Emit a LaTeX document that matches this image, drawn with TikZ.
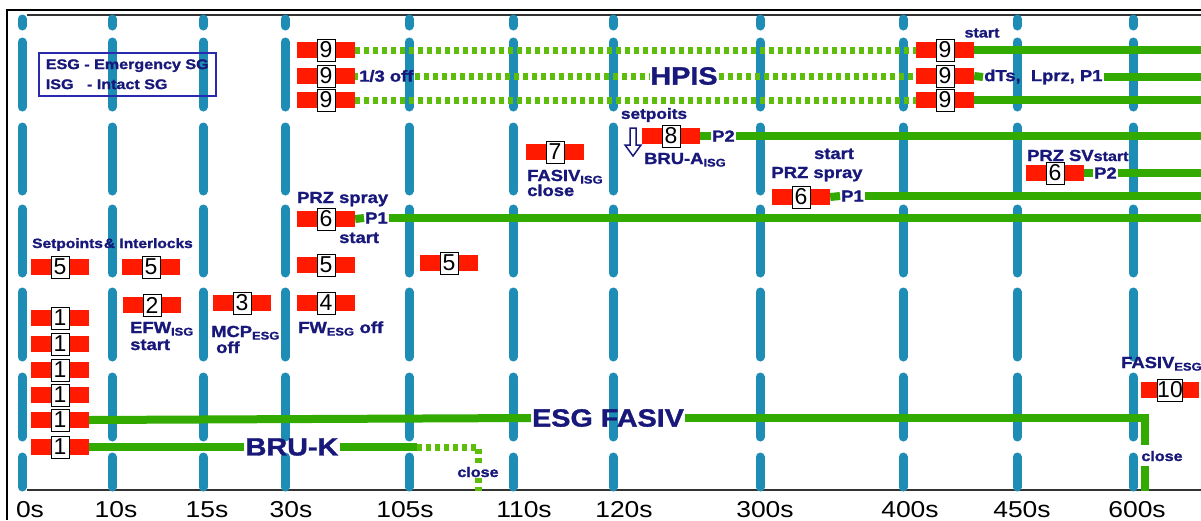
\documentclass[tikz,border=0pt]{standalone}
\usepackage{fontspec}
\newfontfamily\labfont{Liberation Sans}[FakeStretch=1.15,BoldFeatures={FakeBold=1.3}]
\newfontfamily\digfont{Liberation Sans}
\definecolor{gridblue}{HTML}{1E8DB6}
\definecolor{sigred}{HTML}{FF1A00}
\definecolor{flowgreen}{HTML}{33AA00}
\definecolor{flowlight}{HTML}{5CBE0A}
\definecolor{labnavy}{HTML}{18187A}
\definecolor{legblue}{HTML}{2A2AB0}
\definecolor{axisgrey}{HTML}{333333}

\begin{document}
\begin{tikzpicture}[x=1pt,y=-1pt,
 lab/.style={font=\labfont\bfseries\fontsize{16}{18}\selectfont,text=labnavy,inner sep=1pt},
 smalllab/.style={lab,font=\labfont\bfseries\fontsize{14}{16}\selectfont},
 biglab/.style={lab,font=\labfont\bfseries\fontsize{25}{28}\selectfont},
 ticklab/.style={font=\labfont\fontsize{23}{25}\selectfont,inner sep=0pt},
 num/.style={draw=black,fill=white,line width=1pt,inner sep=0pt,minimum width=18,minimum height=22,font=\digfont\fontsize{23}{23}\selectfont},
 sig/.style={fill=sigred,minimum width=58,minimum height=16,inner sep=0pt,label={[num]center:#1}},
 flow/.style={draw=flowgreen,line width=8pt},
 flowdot/.style={draw=flowlight,line width=7pt,dash pattern=on 5pt off 4pt},
 tline/.style={draw=gridblue,line width=9pt,line cap=round}]
\useasboundingbox (0,0) rectangle (1201,520);
\draw[black,line width=1.2pt] (7,520) -- (7,10) -- (1201,10);
\draw[axisgrey,line width=2pt] (27,15) -- (1201,15);
\draw[axisgrey,line width=2pt] (27,490) -- (1201,490);
\foreach \x in {22,112,203,285,409,513,613,760,903,1017,1133}
  \foreach \a/\b in {15/30,38/111,123/195,205/277,288/361,373/441,453/491}
    \draw[tline] (\x,{\a+4}) -- (\x,{\b-4});
\foreach \t/\x in {0/30,10/116,15/207,30/291,105/405,110/524,120/624,300/765,400/910,450/1022,600/1137}
  \node[ticklab,anchor=base] (t\t) at (\x,517) {\t s};
\coordinate (rim) at (1201,0);

\node[lab,font=\labfont\bfseries\fontsize{14}{20}\selectfont,draw=legblue,line width=1.5pt,align=left,anchor=north west,minimum width=177,minimum height=43] (legend) at (38,52) {ESG - Emergency SG\\ISG\ \ \ - Intact SG};

\node[sig=9] (h1) at (326,50) {};
\node[sig=9] (h2) at (326,76) {};
\node[sig=9] (h3) at (326,100) {};
\node[sig=9] (h4) at (945,50) {};
\node[sig=9] (h5) at (945,76) {};
\node[sig=9] (h6) at (945,100) {};
\node[lab,anchor=west] (off) at (358,76) {1/3 off};
\node[biglab] (hpis) at (684,76) {HPIS};
\node[smalllab] (st9) at (982,33) {start};
\node[lab,anchor=west] (dts) at (983,77) {dTs,\ \ Lprz, P1};
\draw[flowdot] (h1.east) -- (h4.west);
\draw[flowdot] (h2.east) -- (off.west);
\draw[flowdot] (off.east) -- (hpis.west);
\draw[flowdot] (hpis.east) -- (h5.west);
\draw[flowdot] (h3.east) -- (h6.west);
\draw[flow] (h4.east) -- (h4.east -| rim);
\draw[flow] (h5.east) -- (dts.west);
\draw[flow] (dts.east) -- (dts.east -| rim);
\draw[flow] (h6.east) -- (h6.east -| rim);

\node[sig=8] (b8) at (671,136) {};
\node[lab,anchor=west] (p2a) at (711,136) {P2};
\node[lab,font=\labfont\bfseries\fontsize{15}{17}\selectfont] (setp) at (654,115) {setpoits};
\draw[labnavy,line width=1.5pt] (630,128) -- (636,128) -- (636,145) -- (641,145) -- (633,156) -- (625,145) -- (630,145) -- cycle;
\node[lab,anchor=base west] (brua) at (643,164) {BRU-A\textsubscript{ISG}};
\draw[flow] (b8.east) -- (p2a.west);
\draw[flow] (p2a.east) -- (p2a.east -| rim);

\node[sig=7] (f7) at (555,152) {};
\node[lab,anchor=base west] (fasivi) at (526,181) {FASIV\textsubscript{ISG}};
\node[lab,anchor=base west] (fclose) at (526,196) {close};

\node[sig=6] (s6) at (1055,173) {};
\node[lab,anchor=west] (p2b) at (1093,173) {P2};
\node[lab,anchor=base west] (przsv) at (1026,161) {PRZ SV{\fontsize{14}{14}\selectfont start}};
\draw[flow] (s6.east) -- (p2b.west);
\draw[flow] (p2b.east) -- (p2b.east -| rim);

\node[sig=6] (r6) at (801,197) {};
\node[lab,anchor=west] (p1b) at (840,196) {P1};
\node[lab,anchor=base] (rspray) at (817,178) {PRZ spray};
\node[lab,anchor=base] (rstart) at (834,159) {start};
\draw[flow] (r6.east) -- (p1b.west);
\draw[flow] (p1b.east) -- (p1b.east -| rim);

\node[sig=6] (q6) at (326,219) {};
\node[lab,anchor=west] (p1a) at (364,218) {P1};
\node[lab,anchor=base west] (qspray) at (296,203) {PRZ spray};
\node[lab,anchor=base west] (qstart) at (338,243) {start};
\draw[flow] (q6.east) -- (p1a.west);
\draw[flow] (p1a.east) -- (p1a.east -| rim);

\node[sig=5] (c5) at (60,267) {};
\node[sig=5] (d5) at (151,267) {};
\node[sig=5] (e5) at (326,265) {};
\node[sig=5] (g5) at (449,263) {};
\node[lab,font=\labfont\bfseries\fontsize{13.5}{16}\selectfont,anchor=base west] (setpt) at (31,248) {Setpoints\kern1pt\&\ Interlocks};

\node[sig=2] (a2) at (152,305) {};
\node[sig=3] (a3) at (242,303) {};
\node[sig=4] (a4) at (326,303) {};
\node[lab,anchor=base west] (efw) at (129,333) {EFW\textsubscript{ISG}};
\node[lab,anchor=base west] (efwst) at (129,350) {start};
\node[lab,anchor=base west] (mcp) at (210,337) {MCP\textsubscript{ESG}};
\node[lab,anchor=base west] (mcpoff) at (215,353) {off};
\node[lab,anchor=base west] (fw) at (297,333) {FW\textsubscript{ESG} off};

\node[sig=1] (k1) at (60,318) {};
\node[sig=1] (k2) at (60,344) {};
\node[sig=1] (k3) at (60,370) {};
\node[sig=1] (k4) at (60,395) {};
\node[sig=1] (k5) at (60,420) {};
\node[sig=1] (k6) at (60,447) {};
\node[biglab] (esg) at (608,418) {ESG FASIV};
\node[biglab] (bruk) at (292,447) {BRU-K};
\coordinate (fturn) at (1145,445);
\coordinate (fresume) at (1145,466);
\coordinate (fend) at (1145,491);
\node[smalllab] (fclose2) at (1162,456) {close};
\draw[flow] (k5.east) -- (esg.west);
\draw[flow] (esg.east) -| (fturn);
\draw[flow] (fresume) -- (fend);
\coordinate (bend) at (417,447);
\coordinate (bbot) at (478,491);
\node[smalllab] (bclose) at (478,472) {close};
\draw[flow] (k6.east) -- (bruk.west);
\draw[flow] (bruk.east) -- (bend);
\draw[flowdot] (bend) -| (bclose.north);
\draw[flowdot] (bclose.south) -- (bbot);

\node[sig=10] (z10) at (1170,390) {};
\node[lab,anchor=base west] (fasive) at (1120,368) {FASIV\textsubscript{ESG}};
\end{tikzpicture}
\end{document}
